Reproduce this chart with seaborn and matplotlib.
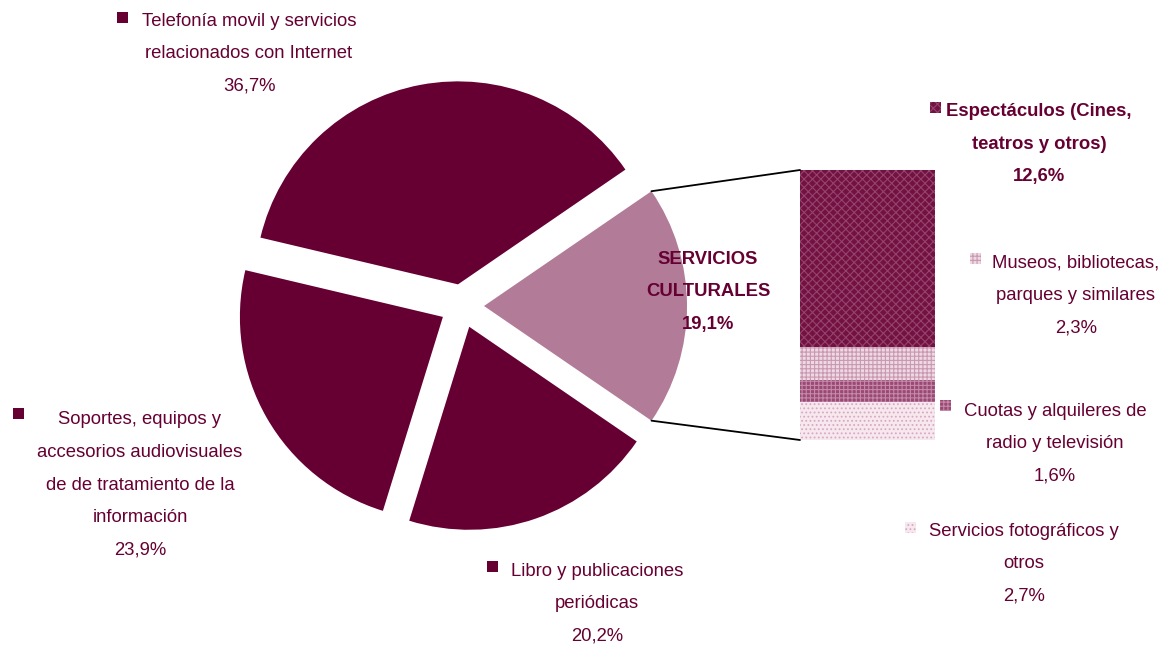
import matplotlib
matplotlib.use("Agg")
import matplotlib.pyplot as plt
from matplotlib.patches import ConnectionPatch, Rectangle
import numpy as np
import seaborn as sns

sns.set_theme(style="white")
plt.rcParams['font.family'] = ['Liberation Sans', 'DejaVu Sans']
plt.rcParams['hatch.linewidth'] = 0.8

# main pie (Servicios culturales first, then clockwise on screen)
main_labels = [["SERVICIOS", "CULTURALES"],
               ["Telefonía movil y servicios", "relacionados con Internet"],
               ["Soportes, equipos y", "accesorios audiovisuales",
                "de de tratamiento de la", "información"],
               ["Libro y publicaciones", "periódicas"]]
main_values = [19.1, 36.7, 23.9, 20.2]
main_pct = ["19,1%", "36,7%", "23,9%", "20,2%"]

# breakdown of Servicios culturales (top to bottom)
sub_labels = [["Espectáculos (Cines,", "teatros y otros)"],
              ["Museos, bibliotecas,", "parques y similares"],
              ["Cuotas y alquileres de", "radio y televisión"],
              ["Servicios fotográficos y", "otros"]]
sub_values = [12.6, 2.3, 1.6, 2.7]
sub_pct = ["12,6%", "2,3%", "1,6%", "2,7%"]

TXT = "#660033"
main_colors = ["#b27b97", "#660033", "#660033", "#660033"]
sub_colors = ["#731242", "#eed8e3", "#9a4874", "#f6e8ee"]
sub_hatch = ["xxxx", "++++", "++++", "...."]
sub_hcolor = ["#94446c", "#c998b1", "#c48aa7", "#d9a9c0"]

W, H = 1162, 646
fig = plt.figure(figsize=(W / 100, H / 100), dpi=100)
ax = fig.add_axes([0, 0, 1, 1])

# pie in pixel coordinates (y grows downward, so draw clockwise in data)
wedges, _ = ax.pie(main_values, colors=main_colors, startangle=34.4,
                   counterclock=False, explode=[22] * 4, radius=203,
                   center=(462, 306), frame=True,
                   wedgeprops=dict(linewidth=0))
ax.set_xlim(0, W)
ax.set_ylim(H, 0)
ax.set_aspect("equal")
ax.axis("off")

# stacked bar for the breakdown
bax = fig.add_axes([800 / W, (H - 440) / H, 135 / W, 270 / H])
bottom = sum(sub_values)
for val, col, hat, hc in zip(sub_values, sub_colors, sub_hatch, sub_hcolor):
    bottom -= val
    bax.bar(0.5, val, width=1, bottom=bottom, color=col, hatch=hat,
            edgecolor=hc, linewidth=0)
bax.set_xlim(0, 1)
bax.set_ylim(0, sum(sub_values))
bax.axis("off")

# connector lines from the exploded wedge to the bar corners
w = wedges[0]
cx, cy = w.center
for theta, yb in [(w.theta1, sum(sub_values)), (w.theta2, 0)]:
    px = cx + w.r * np.cos(np.radians(theta))
    py = cy + w.r * np.sin(np.radians(theta))
    con = ConnectionPatch(xyA=(0, yb), coordsA=bax.transData,
                          xyB=(px, py), coordsB=ax.transData,
                          color="black", linewidth=1.3)
    fig.add_artist(con)

LINE = 32.5


def put_label(lines, pct, cx, y0, mx, my, face, bold=False, hatch=None, hc=None):
    weight = "bold" if bold else "normal"
    for i, line in enumerate(lines + [pct]):
        ax.text(cx, y0 + i * LINE, line, ha="center", va="center",
                fontsize=13.3, color=TXT, fontweight=weight)
    ax.add_patch(Rectangle((mx - 5.5, my - 5.5), 11, 11, facecolor=face,
                           hatch=hatch, edgecolor=hc if hc else face,
                           linewidth=0))


# main labels
put_label(main_labels[0], main_pct[0], 708, 259, 629, 254, main_colors[0], bold=True)
put_label(main_labels[1], main_pct[1], 249, 21, 122, 17, main_colors[1])
put_label(main_labels[2], main_pct[2], 140, 420, 18, 413, main_colors[2])
put_label(main_labels[3], main_pct[3], 597, 571, 492, 566, main_colors[3])

# breakdown labels
put_label(sub_labels[0], sub_pct[0], 1039, 112, 935, 107, sub_colors[0], True, sub_hatch[0], sub_hcolor[0])
put_label(sub_labels[1], sub_pct[1], 1076, 263, 975, 258, sub_colors[1], False, sub_hatch[1], sub_hcolor[1])
put_label(sub_labels[2], sub_pct[2], 1055, 411, 945, 405, sub_colors[2], False, sub_hatch[2], sub_hcolor[2])
put_label(sub_labels[3], sub_pct[3], 1024, 531, 910, 527, sub_colors[3], False, sub_hatch[3], sub_hcolor[3])

fig.savefig("out.png", dpi=100)
